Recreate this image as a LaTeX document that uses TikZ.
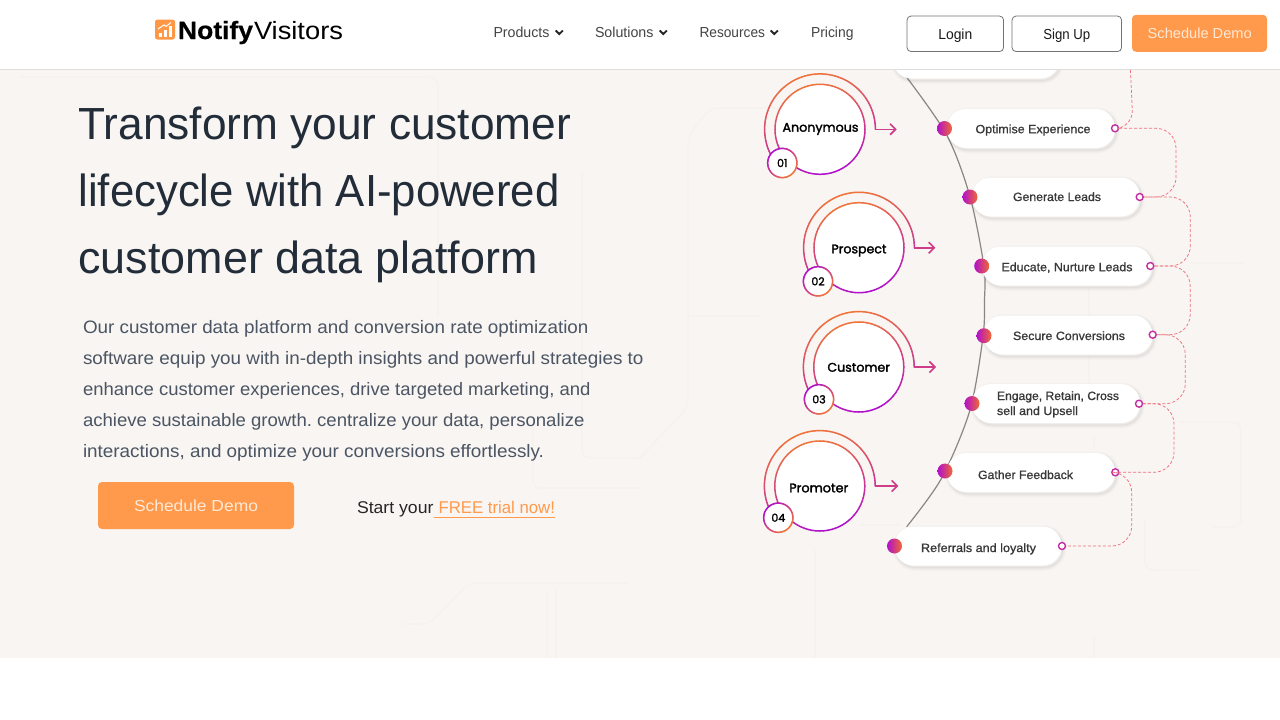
\documentclass[tikz,border=0pt]{standalone}
\usepackage{fontspec}
\usepackage{graphicx}
\setmainfont{Liberation Sans}
\newfontfamily\popf[FakeBold=2]{Poppins}
\newfontfamily\medf[FakeBold=1]{Liberation Sans}
\usetikzlibrary{calc,arrows.meta}
\definecolor{pageBg}{HTML}{F8F5F2}
\definecolor{traceC}{HTML}{F6F3EF}
\definecolor{headC}{HTML}{222D39}
\definecolor{bodyC}{HTML}{4B5563}
\definecolor{navC}{HTML}{444444}
\definecolor{btnC}{HTML}{FF9A4D}
\definecolor{btnT}{HTML}{FFE9D6}
\definecolor{grO}{HTML}{F0743A}
\definecolor{grP}{HTML}{B010CC}
\definecolor{dashC}{HTML}{F0707C}
\definecolor{spineC}{HTML}{8A8682}
\newsavebox{\fitbox}
\newcommand{\fitw}[2]{\sbox{\fitbox}{#2}\pgfmathsetmacro{\fitscale}{#1/\wd\fitbox}\scalebox{\fitscale}[1]{\usebox{\fitbox}}}
% ring stroked in steps; #6 is the angle at which it is fully orange
\newcommand{\gradarc}[6]{% cx cy r start end phase
  \foreach \i in {1,...,72}{
    \pgfmathsetmacro{\aS}{#4+(#5-#4)/72*(\i-1)}
    \pgfmathsetmacro{\aE}{#4+(#5-#4)/72*\i}
    \pgfmathsetmacro{\mix}{100*(0.5+0.5*cos((\aS+\aE)/2-(#6)))}
    \colorlet{stepC}{grO!\mix!grP}
    \draw[stepC,line width=1.5pt,line cap=round] ({#1+#3*cos(\aS)},{#2-#3*sin(\aS)}) -- ({#1+#3*cos(\aE)},{#2-#3*sin(\aE)});
  }%
}
\tikzset{
  x=1pt,y=-1pt,
  txt/.style={inner sep=0pt,outer sep=0pt,anchor=base west},
  ctxt/.style={inner sep=0pt,outer sep=0pt,anchor=base},
  headline/.style={txt,text=headC,font=\fontsize{45}{45}\selectfont},
  bodyline/.style={txt,text=bodyC,font=\fontsize{18}{18}\selectfont},
  navitem/.style={txt,text=navC,font=\fontsize{14.5}{14.5}\selectfont},
  chev/.style={draw=black!85,line width=1.9pt},
  outlinebtn/.style={draw=black!55,line width=0.8pt,fill=white,rounded corners=4pt,inner sep=0pt},
  orangebtn/.style={fill=btnC,rounded corners=4pt,inner sep=0pt},
  pill/.style={fill=white,rounded corners=19pt,inner sep=0pt,
    preaction={draw=black,draw opacity=.012,fill=none,line width=7pt,transform canvas={yshift=-2pt,xshift=1.5pt}},
    preaction={draw=black,draw opacity=.018,fill=none,line width=5pt,transform canvas={yshift=-2pt,xshift=1.5pt}},
    preaction={draw=black,draw opacity=.025,fill=none,line width=3pt,transform canvas={yshift=-2pt,xshift=1.5pt}},
    preaction={draw=black,draw opacity=.03,fill=none,line width=1pt,transform canvas={yshift=-2pt,xshift=1.5pt}}},
  pilltext/.style={inner sep=0pt,text=black!78,font=\medf\fontsize{12}{14.5}\selectfont},
  dot/.style={circle,inner sep=0pt,minimum size=15pt,left color=grP,right color=grO!90!red},
  port/.style={circle,inner sep=0pt,minimum size=7pt,draw=grP!70!grO,line width=1.4pt,fill=white},
  dashline/.style={draw=dashC,line width=0.75pt,dash pattern=on 3pt off 2pt,rounded corners=20pt},
  bigc/.style={circle,inner sep=0pt,minimum size=90pt,fill=white},
  smallc/.style={circle,inner sep=0pt,minimum size=29pt,fill=white,font=\popf\fontsize{11}{11}\selectfont},
  stagetext/.style={ctxt,font=\popf\fontsize{12.5}{12.5}\selectfont},
  trace/.style={draw=traceC,line width=1.6pt,rounded corners=8pt},
}
\newcommand{\stage}[7]{% name cx cy sx sy tipx num
  \node[bigc] (#1) at (#2,#3) {};
  \gradarc{#2}{#3}{45}{0}{360}{105}
  \gradarc{#2}{#3}{55.4}{0}{206}{105}
  \node[smallc] (#1n) at (#4,#5) {#7};
  \gradarc{#4}{#5}{14.6}{0}{360}{-45}
  \coordinate (#1a) at (#6,#3);
  \draw[grP!55!grO,line width=1.6pt,-{Straight Barb[length=5.5pt,width=11pt]}]
     ($(#1)+(55.4,0)$) -- (#1a);
}
\begin{document}
\frenchspacing
\begin{tikzpicture}
\useasboundingbox (0,0) rectangle (1280,720);
\fill[white] (0,0) rectangle (1280,720);
\fill[pageBg] (0,69) rectangle (1280,658);
% faint circuit traces
\draw[trace] (20,77) -- (438,77) -- (438,316);
\draw[trace] (640,458) -- (582,458) -- (582,173);
\draw[trace] (640,458) -- (688,407) -- (688,137) -- (710,108) -- (800,108);
\draw[trace] (688,316) -- (760,316);
\draw[trace] (533,427) -- (533,488) -- (640,488);
\draw[trace] (1089,287) -- (1089,383);
\draw[trace] (1094,437) -- (1094,450);
\draw[trace] (1180,422) -- (1241,422) -- (1241,527) -- (1213,527);
\draw[trace] (1145,520) -- (1145,570) -- (1200,570);
\draw[trace] (1190,263) -- (1245,263);
\draw[trace] (1094,637) -- (1094,658);
\draw[trace] (404,624) -- (429,624) -- (469,583) -- (628,583);
\draw[trace] (547,590) -- (547,658);
\draw[trace] (556,590) -- (556,658);
\draw[trace] (815,550) -- (815,658);
\draw[trace] (860,525) -- (900,525);
% spine
\draw[spineC,line width=1.2pt] plot[smooth] coordinates {(905,75) (946.7,135) (970,196.7) (984,266.7) (984.5,300) (983,336.7) (970,410) (941.7,478) (906.7,526.7)};
% pills
\node[pill,minimum width=167pt,minimum height=39pt] (pillA) at (976,59) {};
\node[pill,minimum width=168pt,minimum height=39pt] (pillB) at (1031,128.5) {};
\node[pill,minimum width=168pt,minimum height=39pt] (pillC) at (1056,197) {};
\node[pill,minimum width=170pt,minimum height=39pt] (pillD) at (1067,266) {};
\node[pill,minimum width=169pt,minimum height=39pt] (pillE) at (1068,335) {};
\node[pill,minimum width=168pt,minimum height=39pt] (pillF) at (1056,403.5) {};
\node[pill,minimum width=168pt,minimum height=39pt] (pillG) at (1031,472.5) {};
\node[pill,minimum width=167pt,minimum height=39pt] (pillH) at (978,546) {};
% pill labels
\node[pilltext,ctxt] (tB) at (1033,133.2) {\fitw{115}{Optimise Experience}};
\node[pilltext,ctxt] (tC) at (1057,201) {\fitw{88}{Generate Leads}};
\node[pilltext,ctxt] (tD) at (1067,271.2) {\fitw{131}{Educate, Nurture Leads}};
\node[pilltext,ctxt] (tE) at (1069,340) {\fitw{112}{Secure Conversions}};
\node[pilltext,txt] (tF1) at (997,400) {\fitw{122}{Engage, Retain, Cross}};
\node[pilltext,txt] (tF2) at (997,415) {\fitw{81}{sell and Upsell}};
\node[pilltext,ctxt] (tG) at (1025.5,479) {\fitw{95}{Gather Feedback}};
\node[pilltext,ctxt] (tH) at (978.5,552) {\fitw{115}{Referrals and loyalty}};
% dots
\node[dot] (dB) at (944.5,128.5) {};
\node[dot] (dC) at (970,197) {};
\node[dot] (dD) at (981.7,266) {};
\node[dot] (dE) at (984,335.7) {};
\node[dot] (dF) at (972,403.5) {};
\node[dot] (dG) at (945,471) {};
\node[dot] (dH) at (894.5,546) {};
% ports
\coordinate (topFree) at (1130,60);
\node[port] (pB) at (1115,128.3) {};
\node[port] (pC) at (1139.7,197) {};
\node[port] (pD) at (1150.3,266) {};
\node[port] (pE) at (1152.7,334.7) {};
\node[port] (pF) at (1139,403.7) {};
\node[port] (pG) at (1115.3,472.3) {};
\node[port] (pH) at (1062,546) {};
% dashed connectors
\draw[dashline,rounded corners=16pt] (topFree) -- ($(pB)+(18,-2)$) -- (pB.east);
\draw[dashline] (pB.east) -| ($(pC)+(36.3,0)$) -- (pC.east);
\draw[dashline] (pC.east) -| ($(pD)+(40,0)$) -- (pD.east);
\draw[dashline] (pD.east) -| ($(pE)+(37.5,0)$) -- (pE.east);
\draw[dashline] (pE.east) -| ($(pF)+(46.3,0)$) -- (pF.east);
\draw[dashline] (pF.east) -| ($(pG)+(58.7,0)$) -- (pG.east);
\draw[dashline] (pG.east) -| ($(pH)+(69.7,0)$) -- (pH.east);
% stages
\stage{sA}{820}{129.3}{782.3}{163}{896.7}{01}
\node[stagetext] (sAt) at (820.5,131.7) {\fitw{76}{Anonymous}};
\stage{sB}{859}{247.7}{818}{281.3}{935.3}{02}
\node[stagetext] (sBt) at (859,253.3) {\fitw{55}{Prospect}};
\stage{sC}{858.8}{367}{819}{399.3}{936}{03}
\node[stagetext] (sCt) at (858.7,371.7) {\fitw{62.5}{Customer}};
\stage{sD}{819.8}{486}{778.3}{517.7}{898.3}{04}
\node[stagetext] (sDt) at (818.8,492.3) {\fitw{59}{Promoter}};
% header
\fill[white] (0,0) rectangle (1280,69);
\draw[black!13,line width=1pt] (0,69.5) -- (1280,69.5);
% logo
\node[fill=btnC!90!orange,rounded corners=2.5pt,minimum size=20pt,inner sep=0pt] (logoIcon) at (165,29.5) {};
\fill[white] (159,33) rectangle (162,37);
\fill[white] (164,30) rectangle (167,37);
\fill[white] (169,26) rectangle (172,37);
\draw[white,line width=1pt] (158,29) -- (164,25) -- (166,26.5) -- (171,22.5);
\node[txt,font=\fontsize{25}{25}\selectfont] (logoA) at (178,39) {\fitw{75}{\bfseries\addfontfeature{FakeBold=0.5}Notify}};
\node[txt,font=\fontsize{25}{25}\selectfont] (logoB) at (254,39) {\fitw{89}{Visitors}};
% nav
\node[navitem] (nav1) at (493.5,37) {\fitw{56}{Products}};
\draw[chev] (555.7,30.5) -- (559.3,34) -- (562.9,30.5);
\node[navitem] (nav2) at (595,37) {\fitw{58.5}{Solutions}};
\draw[chev] (659.7,30.5) -- (663.3,34) -- (666.9,30.5);
\node[navitem] (nav3) at (699.5,37) {\fitw{65.5}{Resources}};
\draw[chev] (770.7,30.5) -- (774.3,34) -- (777.9,30.5);
\node[navitem] (nav4) at (811,37) {\fitw{42.5}{Pricing}};
% buttons
\node[outlinebtn,minimum width=96.5pt,minimum height=35.5pt] (login) at (955.3,33.8) {};
\node[txt,text=black!90,font=\fontsize{14.5}{14.5}\selectfont] (loginT) at (938.3,39) {\fitw{34}{Login}};
\node[outlinebtn,minimum width=109.5pt,minimum height=35.5pt] (signup) at (1066.8,33.8) {};
\node[txt,text=black!90,font=\fontsize{14.5}{14.5}\selectfont] (signupT) at (1043.3,39) {\fitw{47}{Sign Up}};
\node[orangebtn,minimum width=135pt,minimum height=37pt] (demoTop) at (1199.5,33.3) {};
\node[txt,text=btnT,font=\fontsize{14.5}{14.5}\selectfont] (demoTopT) at (1147.7,38) {\fitw{104}{Schedule Demo}};
% headline
\node[headline] (h1) at (78.5,139) {\fitw{492.5}{Transform your customer}};
\node[headline] (h2) at (78.5,206) {\fitw{481}{lifecycle with AI-powered}};
\node[headline] (h3) at (78.5,273) {\fitw{459}{customer data platform}};
% paragraph
\node[bodyline] (b1) at (83,333) {\fitw{505.5}{Our customer data platform and conversion rate optimization}};
\node[bodyline] (b2) at (83,364) {\fitw{560.5}{software equip you with in-depth insights and powerful strategies to}};
\node[bodyline] (b3) at (83,395) {\fitw{507.5}{enhance customer experiences, drive targeted marketing, and}};
\node[bodyline] (b4) at (83,426) {\fitw{501.5}{achieve sustainable growth. centralize your data, personalize}};
\node[bodyline] (b5) at (83,457) {\fitw{461}{interactions, and optimize your conversions effortlessly.}};
% call to action
\node[orangebtn,minimum width=196pt,minimum height=47pt] (demoMain) at (196,505.5) {};
\node[ctxt,text=btnT,font=\fontsize{16}{16}\selectfont] (demoMainT) at (196,511) {\fitw{124}{Schedule Demo}};
\node[txt,text=black!85,font=\fontsize{17}{17}\selectfont] (startT) at (357,513) {\fitw{76.5}{Start your}};
\node[txt,text=btnC,font=\fontsize{17}{17}\selectfont] (freeT) at (438.5,513) {\fitw{116.5}{FREE trial now!}};
\coordinate (ulL) at (433.5,517.5);
\draw[btnC,line width=0.9pt] (ulL) -- (ulL -| freeT.base east);
\end{tikzpicture}
\end{document}
